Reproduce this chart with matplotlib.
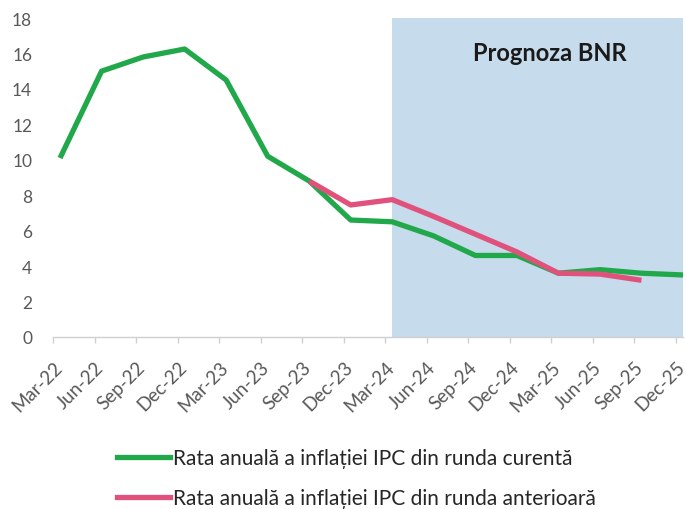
import matplotlib
matplotlib.use("Agg")
import matplotlib.pyplot as plt
import numpy as np

plt.rcParams['font.family'] = ['Lato', 'DejaVu Sans']

quarters = ["Mar-22", "Jun-22", "Sep-22", "Dec-22", "Mar-23", "Jun-23", "Sep-23", "Dec-23",
            "Mar-24", "Jun-24", "Sep-24", "Dec-24", "Mar-25", "Jun-25", "Sep-25", "Dec-25"]
current_round = [10.1, 15.0, 15.8, 16.25, 14.5, 10.2, 8.8, 6.6,
                 6.5, 5.7, 4.6, 4.6, 3.6, 3.8, 3.6, 3.5]
previous_round = [None, None, None, None, None, None, 8.8, 7.45,
                  7.75, 6.8, 5.8, 4.8, 3.6, 3.55, 3.2, None]
forecast_start = "Mar-24"
forecast_end = "Dec-25"
y_ticks = [0, 2, 4, 6, 8, 10, 12, 14, 16, 18]

label_cur = "Rata anuală a inflației IPC din runda curentă"
label_prev = "Rata anuală a inflației IPC din runda anterioară"
shade_label = "Prognoza BNR"

green = "#21A84A"
pink = "#E0527C"
shade = "#C6DBEC"
gray = "#595959"

off = 0.17
x_tick = np.arange(len(quarters))
x_data = x_tick + off

fig = plt.figure(figsize=(6.86, 5.10), dpi=100)
ax = fig.add_axes([53/686, 1-338/510, (683-53)/686, (338-19)/510])

i0 = quarters.index(forecast_start)
i1 = quarters.index(forecast_end)
ax.axvspan(x_data[i0], x_data[i1], ymin=0, ymax=1, color=shade, lw=0, zorder=0)

ax.plot(x_data, current_round, color=green, lw=3.8, solid_capstyle='butt', zorder=3)
prev = np.array([np.nan if v is None else v for v in previous_round], dtype=float)
ax.plot(x_data, prev, color=pink, lw=3.8, solid_capstyle='butt', zorder=4)

ax.set_xlim(0, x_data[-1])
ax.set_ylim(0, 18)
ax.set_yticks(y_ticks)
ax.set_yticklabels([str(v) for v in y_ticks])
ax.set_xticks(x_tick)
ax.set_xticklabels(quarters, rotation=45, ha='right', va='top', rotation_mode='anchor')

for s in ['top', 'right', 'left']:
    ax.spines[s].set_visible(False)
ax.spines['bottom'].set_color('#D0D0D0')
ax.spines['bottom'].set_linewidth(1.0)
ax.tick_params(axis='y', length=0, pad=15, labelsize=12.5, labelcolor=gray)
ax.tick_params(axis='x', length=4, width=1, color='#D0D0D0', pad=11, labelsize=13.5, labelcolor=gray)

ax.text(11.97, 16.05, shade_label, fontsize=17, fontweight='bold', color='#1a1a1a',
        ha='center', va='center')

handles = [plt.Line2D([], [], color=green, lw=3.8), plt.Line2D([], [], color=pink, lw=3.8)]
fig.legend(handles, [label_cur, label_prev], loc='upper left',
           bbox_to_anchor=(117/686, 1-449/510), frameon=False, fontsize=15,
           borderpad=0, borderaxespad=0,
           handlelength=2.55, handletextpad=0.12, labelspacing=0.98, labelcolor='#262626')

fig.savefig("out.png", dpi=100)
